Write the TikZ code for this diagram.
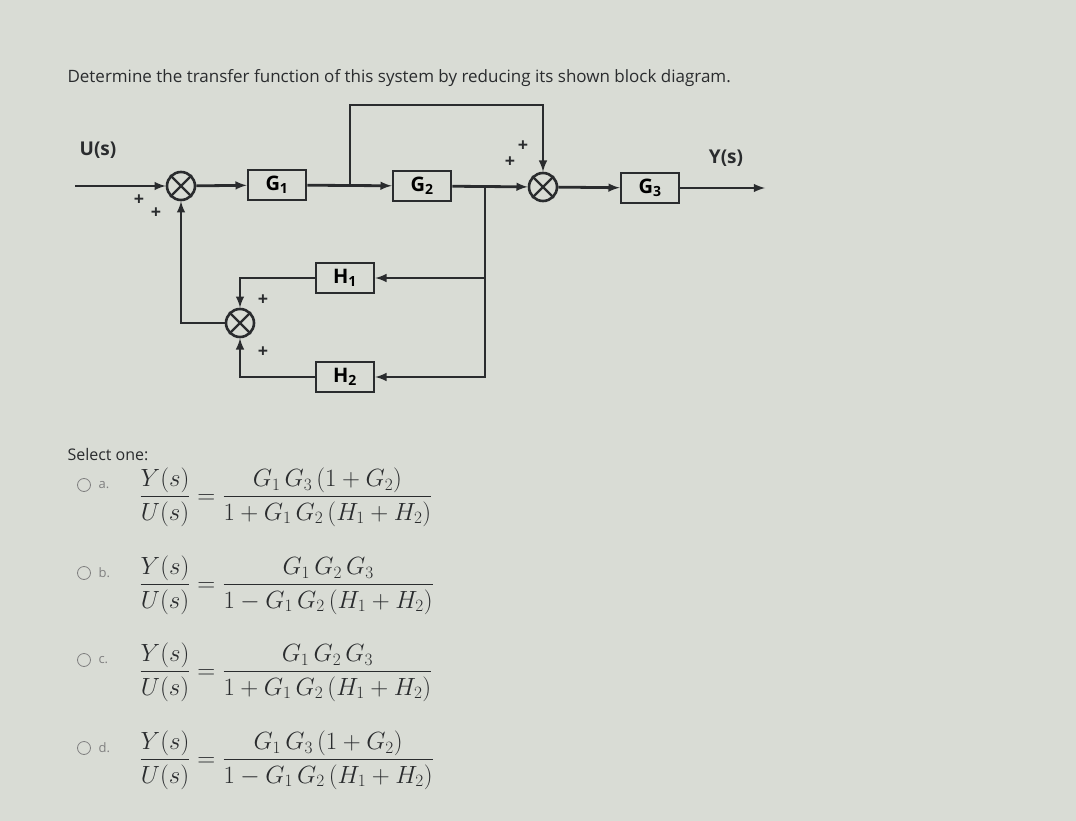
\documentclass[tikz,border=0pt]{standalone}
\usepackage{amsmath}
\usepackage{fontspec}
\setmainfont{Open Sans}
\usetikzlibrary{arrows}
\usetikzlibrary{calc}
\definecolor{screen}{HTML}{D9DCD5}
\definecolor{ink}{HTML}{2A2C2E}
\tikzset{
  blk/.style={shape=rectangle, draw=ink, line width=2.6pt, minimum width=58pt, minimum height=30pt, font=\fontsize{20}{22}\selectfont\bfseries},
  sum/.style={shape=circle, draw=ink, line width=2.6pt, minimum size=28pt, inner sep=0pt},
  sig/.style={->, >=latex, line width=2.8pt, draw=ink},
  pls/.style={font=\fontsize{18}{18}\selectfont\bfseries, text=ink},
  lbl/.style={font=\fontsize{19}{20}\selectfont\bfseries, text=ink},
  opt/.style={font=\fontsize{24}{26}\selectfont, text=ink, anchor=west},
}
\begin{document}
\begin{tikzpicture}[x=1pt,y=-1pt]
\fill[screen] (0,0) rectangle (1076,821);
\useasboundingbox (0,0) rectangle (1076,821);
\node[anchor=west, font=\fontsize{17}{18}\selectfont, text=ink] (title) at (64,78) {Determine the transfer function of this system by reducing its shown block diagram.};
% blocks
\node[sum] (s1) at (181,186) {};
\node[blk] (g1) at (277,185) {G\textsubscript{1}};
\node[blk] (g2) at (422,186) {G\textsubscript{2}};
\node[sum] (s3) at (543,187) {};
\node[blk] (g3) at (650,188) {G\textsubscript{3}};
\node[blk] (h1) at (345,278) {H\textsubscript{1}};
\node[blk] (h2) at (345,377) {H\textsubscript{2}};
\node[sum] (s2) at (240,323) {};
\foreach \s in {s1,s2,s3}
  {\draw[line width=2.4pt, draw=ink] (\s.45) -- (\s.225) (\s.135) -- (\s.315);}
% points
\coordinate (u) at (75,186);
\coordinate (y) at (765,188);
\coordinate (b1) at (350,186);
\coordinate (b2) at (485,187);
\node[lbl] (ul) at (98,150) {U(s)};
\node[lbl] (yl) at (726,158) {Y(s)};
% connectors
\draw[sig] (u) -- (s1);
\draw[sig] (s1) -- (g1);
\draw[sig] (g1) -- (g2);
\draw[sig] (b1) -- (b1 |- 0,105) -- (s3.north |- 0,105) -- (s3);
\draw[sig] (g2) -- (s3);
\draw[sig] (s3) -- (g3);
\draw[sig] (g3) -- (y);
\draw[sig] (b2) |- (h1);
\draw[sig] (b2) |- (h2);
\draw[sig] (h1) -| (s2);
\draw[sig] (h2) -| (s2);
\draw[sig] (s2) -| (s1);
% signs
\node[pls] (p1) at (139,200) {+};
\node[pls] (p2) at (156,213) {+};
\node[pls] (p3) at (263,300) {+};
\node[pls] (p4) at (263,352) {+};
\node[pls] (p5) at (510,162) {+};
\node[pls] (p6) at (523,146) {+};
% answers
\node[anchor=west, font=\fontsize{16}{18}\selectfont, text=ink] (sel) at (64,455) {Select one:};
\foreach \k/\yy/\num/\sg in {a/497/G_1\,G_3\,(1+G_2)/+, b/585/G_1\,G_2\,G_3/-, c/672/G_1\,G_2\,G_3/+, d/760/G_1\,G_3\,(1+G_2)/-}
  {\draw[gray, line width=0.8pt] (84,\yy-12) circle (6.5pt);
   \node[anchor=west, font=\fontsize{13}{14}\selectfont, text=gray] (k\k) at (95,\yy-12) {\k.};
   \node[opt] (f\k) at (136,\yy) {$\dfrac{Y(s)}{U(s)}=\dfrac{\num}{1\sg G_1\,G_2\,(H_1+H_2)}$};}
\end{tikzpicture}
\end{document}
